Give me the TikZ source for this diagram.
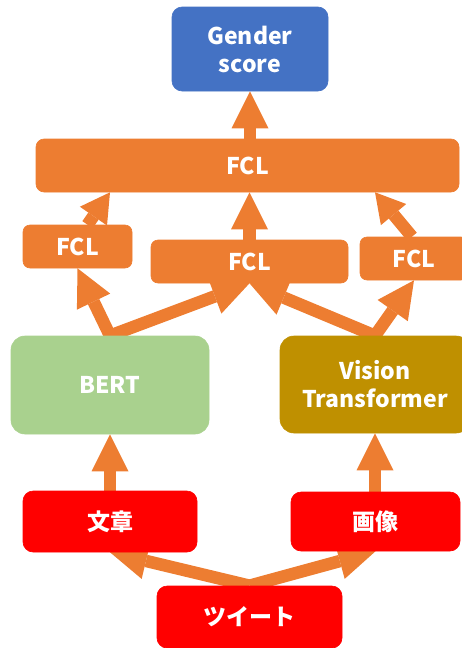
\documentclass[tikz,border=0pt]{standalone}
\usepackage{fontspec}
\setmainfont{Noto Sans CJK JP}
\usetikzlibrary{arrows.meta,backgrounds}
\definecolor{cOrange}{HTML}{ED7D31}
\definecolor{cBlue}{HTML}{4472C4}
\definecolor{cGreen}{HTML}{A9D18E}
\definecolor{cGold}{HTML}{BF9000}
\definecolor{cRed}{HTML}{FF0000}
\tikzset{
  box/.style={draw=#1, fill=#1, line width=0.6pt, rounded corners=10pt,
    inner sep=0pt, align=center, text=white,
    font=\fontsize{23}{28}\selectfont\bfseries},
  blockarrow/.style={draw=cOrange, line width=12.5pt, line cap=butt,
    -{Triangle[length=37pt,width=37pt,line width=0pt]}},
  shortarrow/.style={draw=cOrange, line width=12.5pt, line cap=butt,
    -{Triangle[length=29pt,width=33pt,line width=0pt]}},
}
\begin{document}
\begin{tikzpicture}[x=1pt, y=-1pt]
\useasboundingbox (0,0) rectangle (462,648);
% boxes
\node[box=cBlue, minimum width=156pt, minimum height=84pt] (gender) at (250,49) {Gender\\score};
\node[box=cOrange, minimum width=423pt, minimum height=53pt, rounded corners=8pt] (fclB) at (247.5,165.5) {FCL};
\node[box=cOrange, minimum width=109pt, minimum height=43pt, rounded corners=7pt] (fclL) at (77.5,246.5) {FCL};
\node[box=cOrange, minimum width=197pt, minimum height=43pt, rounded corners=7pt] (fclM) at (249.5,261.5) {FCL};
\node[box=cOrange, minimum width=108pt, minimum height=43pt, rounded corners=7pt] (fclR) at (414,258.5) {FCL};
\node[box=cGreen, minimum width=198pt, minimum height=98pt, rounded corners=14pt] (bert) at (110,385) {BERT};
\node[box=cGold, minimum width=190pt, minimum height=97pt, rounded corners=14pt] (vit) at (375,384.5) {Vision\\Transformer};
\node[box=cRed, minimum width=174pt, minimum height=61pt] (text) at (110,521.5) {文章};
\node[box=cRed, minimum width=169pt, minimum height=59pt] (image) at (375.5,521.5) {画像};
\node[box=cRed, minimum width=185pt, minimum height=62pt] (tweet) at (249.5,617) {ツイート};
% connectors
\begin{scope}[on background layer]
\draw[blockarrow] (tweet.north) -- (text.south);
\draw[blockarrow] (tweet.north) -- (image.south);
\draw[blockarrow] (text.north) -- (bert.south);
\draw[blockarrow] (image.north -| vit.south) -- (vit.south);
\draw[blockarrow] (bert.north) -- (fclL.south);
\draw[blockarrow] (bert.north) -- (fclM.south);
\draw[blockarrow] (vit.north) -- (fclM.south);
\draw[blockarrow] (vit.north) -- (fclR.south);
\draw[shortarrow] ([xshift=10pt]fclL.north) -- (fclB.south -| bert.north);
\draw[blockarrow] (fclM.north) -- (fclM.north |- fclB.south);
\draw[shortarrow] ([xshift=-2pt]fclR.north) -- (fclB.south -| vit.north);
\draw[blockarrow] (fclB.north -| gender.south) -- (gender.south);
\end{scope}
\end{tikzpicture}
\end{document}
